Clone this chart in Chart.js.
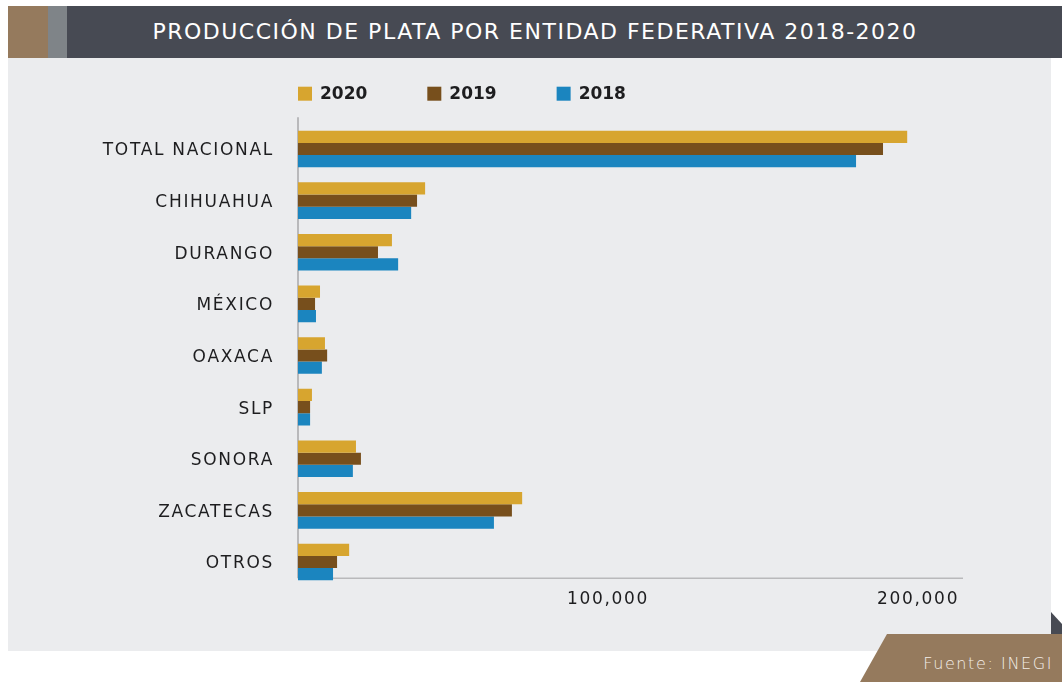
<!DOCTYPE html>
<html>
<head>
<meta charset="utf-8">
<script src="https://cdn.jsdelivr.net/npm/chart.js@4.4.0/dist/chart.umd.min.js"></script>
<style>
  body { margin: 0; background: #fff; width: 1062px; height: 682px; overflow: hidden; position: relative; font-family: "DejaVu Sans", sans-serif; }
  .header { position: absolute; left: 8px; top: 6px; width: 1054px; height: 52px; background: #474a53; }
  .sq1 { position: absolute; left: 0; top: 0; width: 40px; height: 52px; background: #957a5d; }
  .sq2 { position: absolute; left: 40px; top: 0; width: 19px; height: 52px; background: #7f8488; }
  .title { position: absolute; left: 0; right: 0; top: 0; height: 52px; line-height: 52px; text-align: center; color: #fff; font-size: 22px; letter-spacing: 1.5px; }
  .panel { position: absolute; left: 8px; top: 58px; width: 1043px; height: 593px; background: #ebecee; }
  .fold { position: absolute; left: 1051px; top: 612px; width: 11px; height: 22px; background: #474a53; clip-path: polygon(0 0, 100% 55%, 100% 100%, 0 100%); }
  .fuente { position: absolute; left: 860px; top: 634px; width: 202px; height: 48px; background: #957a5d; clip-path: polygon(27px 0, 100% 0, 100% 100%, 0 100%); }
  .fuente span { position: absolute; right: 9px; top: 20px; color: #f3eee8; font-size: 16px; letter-spacing: 1.6px; font-weight: 300; }
  .wrap { position: absolute; left: 8px; top: 58px; width: 1043px; height: 593px; }
</style>
</head>
<body>
<div class="header"><div class="sq1"></div><div class="sq2"></div><div class="title">PRODUCCIÓN DE PLATA POR ENTIDAD FEDERATIVA 2018-2020</div></div>
<div class="panel"></div>
<div class="fold"></div>
<div class="fuente"><span>Fuente: INEGI</span></div>
<div class="wrap"><canvas id="myChart"></canvas></div>
<script>
// categories and values
var estados = ['TOTAL NACIONAL', 'CHIHUAHUA', 'DURANGO', 'MÉXICO', 'OAXACA', 'SLP', 'SONORA', 'ZACATECAS', 'OTROS'];
var anios = ['2020', '2019', '2018'];
var prod2020 = [196500, 41000, 30300, 7100, 8700, 4500, 18700, 72300, 16500];
var prod2019 = [188700, 38400, 25800, 5500, 9400, 3900, 20300, 69000, 12600];
var prod2018 = [180000, 36500, 32300, 5800, 7700, 3900, 17700, 63200, 11300];
var ticksX = [100000, 200000];

var colores = ['#d7a52f', '#774f1c', '#1b85bf'];
var FONT = '"DejaVu Sans", sans-serif';

var data = {
  labels: estados,
  datasets: [prod2020, prod2019, prod2018].map(function (vals, i) {
    return {
      label: anios[i],
      data: vals,
      backgroundColor: colores[i],
      borderWidth: 0,
      barPercentage: 1,
      categoryPercentage: 0.71
    };
  })
};

// spacing between letters, like the original wide font
var spacing = {
  id: 'spacing',
  beforeDraw: function (chart) { chart.ctx.letterSpacing = '1.7px'; }
};

// thin axis lines, drawn under the bars
var axisLines = {
  id: 'axisLines',
  beforeDatasetsDraw: function (chart) {
    var a = chart.chartArea, ctx = chart.ctx;
    var yLine = a.bottom - 9.5;
    ctx.save();
    ctx.strokeStyle = '#b9b9bb';
    ctx.lineWidth = 1.5;
    ctx.beginPath();
    ctx.moveTo(a.left, yLine);
    ctx.lineTo(a.right, yLine);
    ctx.stroke();
    ctx.lineWidth = 2;
    ctx.beginPath();
    ctx.moveTo(a.left, a.top - 6);
    ctx.lineTo(a.left, yLine);
    ctx.stroke();
    ctx.restore();
  }
};

// legend in one row, starting at the axis
var topLegend = {
  id: 'topLegend',
  afterDraw: function (chart) {
    var ctx = chart.ctx;
    var x = chart.chartArea.left;
    var y = chart.chartArea.top - 29.5;
    ctx.save();
    ctx.letterSpacing = '0px';
    ctx.font = 'bold 17px ' + FONT;
    ctx.textBaseline = 'middle';
    chart.data.datasets.forEach(function (ds) {
      ctx.fillStyle = ds.backgroundColor;
      ctx.fillRect(x, y - 7, 14, 14);
      ctx.fillStyle = '#1d1d1f';
      ctx.fillText(ds.label, x + 22, y + 1);
      x += 22 + ctx.measureText(ds.label).width + 60;
    });
    ctx.restore();
  }
};

var ctx = document.getElementById('myChart').getContext('2d');

var myChart = new Chart(ctx, {
  type: 'bar',
  data: data,
  plugins: [spacing, axisLines, topLegend],
  options: {
    indexAxis: 'y',
    responsive: true,
    maintainAspectRatio: false,
    animation: false,
    layout: { padding: { top: 65.2, right: 88, bottom: 39.2, left: 0 } },
    plugins: {
      legend: { display: false },
      tooltip: { enabled: false }
    },
    scales: {
      x: {
        min: 0,
        max: 214500,
        grid: { display: false, drawTicks: false },
        border: { display: false },
        afterFit: function (s) { s.height = 24; },
        afterBuildTicks: function (s) {
          s.ticks = ticksX.map(function (v) { return { value: v }; });
        },
        ticks: {
          padding: 2,
          color: '#1d1d1f',
          font: { family: FONT, size: 17 },
          callback: function (v) { return v.toLocaleString('en-US'); }
        }
      },
      y: {
        grid: { display: false, drawTicks: false },
        border: { display: false },
        afterFit: function (s) { s.width = 290; },
        ticks: {
          padding: 24,
          labelOffset: 2,
          color: '#1d1d1f',
          font: { family: FONT, size: 17 }
        }
      }
    }
  }
});
</script>
</body>
</html>
